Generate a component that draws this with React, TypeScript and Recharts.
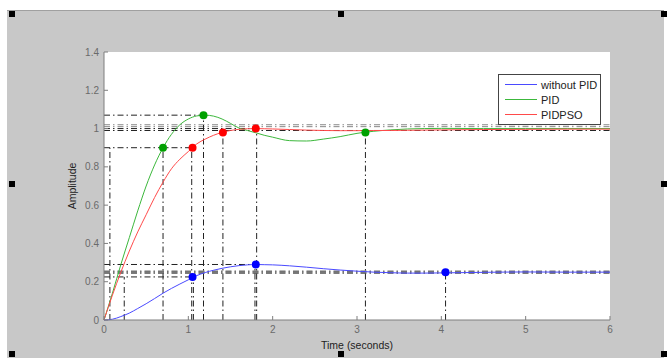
import React from 'react';
import { ComposedChart, Line, Scatter, XAxis, YAxis, ZAxis, ReferenceLine, CartesianGrid, Legend, Label } from 'recharts';

// time grid (seconds) shared by the three step responses
const times = [
  0, 0.1, 0.2, 0.3, 0.4, 0.5, 0.6, 0.7, 0.8, 0.9, 1.0, 1.1, 1.2, 1.3, 1.4, 1.5, 1.6, 1.7, 1.8, 1.9,
  2.0, 2.2, 2.4, 2.6, 2.8, 3.0, 3.2, 3.4, 3.6, 3.8, 4.0, 4.5, 5.0, 5.5, 6.0,
];
const withoutPid = [
  0, 0.004, 0.018, 0.036, 0.06, 0.085, 0.112, 0.14, 0.165, 0.188, 0.21, 0.232, 0.248, 0.26, 0.27, 0.278, 0.284, 0.288, 0.29, 0.289,
  0.288, 0.283, 0.276, 0.268, 0.261, 0.255, 0.25, 0.247, 0.245, 0.245, 0.246, 0.249, 0.251, 0.25, 0.25,
];
const pid = [
  0, 0.14, 0.29, 0.43, 0.57, 0.7, 0.81, 0.9, 0.97, 1.02, 1.05, 1.066, 1.07, 1.065, 1.05, 1.027, 1.003, 0.99, 0.978, 0.965,
  0.955, 0.937, 0.935, 0.945, 0.958, 0.975, 0.986, 0.993, 0.998, 1.0, 1.001, 1.0, 1.0, 1.0, 1.0,
];
const pidPso = [
  0, 0.13, 0.25, 0.36, 0.46, 0.55, 0.64, 0.72, 0.79, 0.84, 0.88, 0.92, 0.945, 0.965, 0.98, 0.99, 0.996, 0.999, 1.0, 0.999,
  0.998, 0.995, 0.992, 0.99, 0.989, 0.989, 0.99, 0.99, 0.991, 0.992, 0.993, 0.995, 0.996, 0.997, 0.997,
];

// characteristic points (rise, peak, settling)
const noPidMarks = [{ t: 1.05, v: 0.225 }, { t: 1.8, v: 0.29 }, { t: 4.05, v: 0.25 }];
const pidMarks = [{ t: 0.7, v: 0.9 }, { t: 1.18, v: 1.07 }, { t: 3.1, v: 0.98 }];
const psoMarks = [{ t: 1.05, v: 0.9 }, { t: 1.41, v: 0.98 }, { t: 1.8, v: 1.0 }];

// dash-dot guide lines: horizontal ones run from t=0 to x2, vertical ones from 0 up to y2
const hGuides = [
  { y: 1.07, x2: 1.18, grey: false },
  { y: 1.02, x2: 6, grey: true },
  { y: 1.01, x2: 6, grey: true },
  { y: 1.0, x2: 1.8, grey: false },
  { y: 0.99, x2: 6, grey: false },
  { y: 0.9, x2: 1.05, grey: false },
  { y: 0.29, x2: 1.8, grey: false },
  { y: 0.255, x2: 6, grey: false },
  { y: 0.25, x2: 6, grey: true },
  { y: 0.245, x2: 6, grey: false },
  { y: 0.225, x2: 1.05, grey: false },
];
const vGuides = [
  { x: 0.07, y2: 0.9 },
  { x: 0.24, y2: 0.225 },
  { x: 0.7, y2: 0.9 },
  { x: 1.04, y2: 0.9 },
  { x: 1.06, y2: 0.225 },
  { x: 1.18, y2: 1.07 },
  { x: 1.41, y2: 0.98 },
  { x: 1.79, y2: 0.29 },
  { x: 1.81, y2: 1.0 },
  { x: 3.1, y2: 0.98 },
  { x: 4.05, y2: 0.25 },
];

const xTicks = [0, 1, 2, 3, 4, 5, 6];
const yTicks = [0, 0.2, 0.4, 0.6, 0.8, 1, 1.2, 1.4];

const legendItems = [
  { name: 'without PID', color: '#4a4aff' },
  { name: 'PID', color: '#3cb83c' },
  { name: 'PIDPSO', color: '#ff4a4a' },
];

const toRows = (vals: number[]) => times.map((t, i) => ({ t, v: vals[i] }));

const FONT = '"Liberation Sans", Arial, sans-serif';
const DASH = '6 3 1.5 3';

const LegendBox = () => (
  <div style={{ width: 101, height: 47, border: '1px solid #444', background: '#fff', fontFamily: FONT, fontSize: 11, color: '#222', paddingTop: 2, boxSizing: 'content-box' }}>
    {legendItems.map((it) => (
      <div key={it.name} style={{ display: 'flex', alignItems: 'center', height: 15 }}>
        <div style={{ width: 32, height: 0, borderTop: `1.5px solid ${it.color}`, marginLeft: 6, marginRight: 4 }} />
        <span>{it.name}</span>
      </div>
    ))}
  </div>
);

const handles = [
  [12, 14], [341, 14], [664, 14],
  [12, 184], [664, 184],
  [12, 354], [341, 354], [664, 354],
];

const noTick = () => <text />;

export default function App() {
  return (
    <div style={{ position: 'absolute', left: 0, top: 0, width: 667, height: 358, background: '#fff', overflow: 'hidden' }}>
      <div style={{ position: 'absolute', left: 7, top: 10, width: 657, height: 347, background: '#c8c8c8', borderTop: '1px solid #a0a0a0' }} />
      {handles.map(([x, y], i) => (
        <div key={i} style={{ position: 'absolute', left: x - 3, top: y - 3, width: 6, height: 6, background: '#000' }} />
      ))}
      <div style={{ position: 'absolute', left: 0, top: 0 }}>
        <ComposedChart width={667} height={358} margin={{ top: 52, right: 57, bottom: 0, left: 0 }}>
          <CartesianGrid fill="#fff" horizontal={false} vertical={false} />
          <XAxis
            dataKey="t" type="number" domain={[0, 6]} ticks={xTicks} height={38}
            axisLine={{ stroke: '#7f7f7f' }} tickLine={{ stroke: '#7f7f7f' }} tickSize={-4} tickMargin={10}
            tick={{ fill: '#6a6a6a', fontSize: 10, fontFamily: FONT }}
          >
            <Label value="Time (seconds)" position="center" dy={6} style={{ fill: '#222', fontSize: 10.5, fontFamily: FONT }} />
          </XAxis>
          <XAxis
            xAxisId="top" orientation="top" type="number" domain={[0, 6]} ticks={xTicks} height={0}
            axisLine={{ stroke: '#7f7f7f' }} tickLine={{ stroke: '#7f7f7f' }} tickSize={-4} tick={noTick}
          >
            <Label value="Step Response" position="top" offset={5} style={{ fill: '#222', fontSize: 10.5, fontFamily: FONT }} />
          </XAxis>
          <YAxis
            dataKey="v" type="number" domain={[0, 1.4]} ticks={yTicks} width={104}
            axisLine={{ stroke: '#7f7f7f' }} tickLine={{ stroke: '#7f7f7f' }} tickSize={-4} tickMargin={9}
            tick={{ fill: '#6a6a6a', fontSize: 10, fontFamily: FONT }}
          >
            <Label value="Amplitude" angle={-90} position="center" dx={20} style={{ fill: '#222', fontSize: 10.5, fontFamily: FONT }} />
          </YAxis>
          <YAxis
            yAxisId="right" orientation="right" type="number" domain={[0, 1.4]} ticks={yTicks} width={0}
            axisLine={{ stroke: '#7f7f7f' }} tickLine={{ stroke: '#7f7f7f' }} tickSize={-4} tick={noTick}
          />
          <ZAxis range={[50, 50]} />

          {hGuides.map((g, i) => (
            <ReferenceLine
              key={`h${i}`}
              segment={[{ x: 0, y: g.y }, { x: g.x2, y: g.y }]}
              stroke={g.grey ? '#888' : '#222'} strokeDasharray={DASH} strokeWidth={1}
            />
          ))}
          {vGuides.map((g, i) => (
            <ReferenceLine
              key={`v${i}`}
              segment={[{ x: g.x, y: 0 }, { x: g.x, y: g.y2 }]}
              stroke="#222" strokeDasharray={DASH} strokeWidth={1}
            />
          ))}

          <Line data={toRows(withoutPid)} dataKey="v" name="without PID" type="monotone" stroke="#4a4aff" strokeWidth={1} dot={false} isAnimationActive={false} />
          <Line data={toRows(pid)} dataKey="v" name="PID" type="monotone" stroke="#3cb83c" strokeWidth={1} dot={false} isAnimationActive={false} />
          <Line data={toRows(pidPso)} dataKey="v" name="PIDPSO" type="monotone" stroke="#ff4a4a" strokeWidth={1} dot={false} isAnimationActive={false} />

          <Scatter data={noPidMarks} dataKey="v" fill="#0000ff" shape="circle" isAnimationActive={false} legendType="none" />
          <Scatter data={pidMarks} dataKey="v" fill="#00a000" shape="circle" isAnimationActive={false} legendType="none" />
          <Scatter data={psoMarks} dataKey="v" fill="#ff0000" shape="circle" isAnimationActive={false} legendType="none" />

          <Legend
            layout="horizontal" verticalAlign="middle" align="center"
            content={<LegendBox />}
            wrapperStyle={{ left: 498, top: 74, width: 103 }}
          />
        </ComposedChart>
      </div>
    </div>
  );
}
